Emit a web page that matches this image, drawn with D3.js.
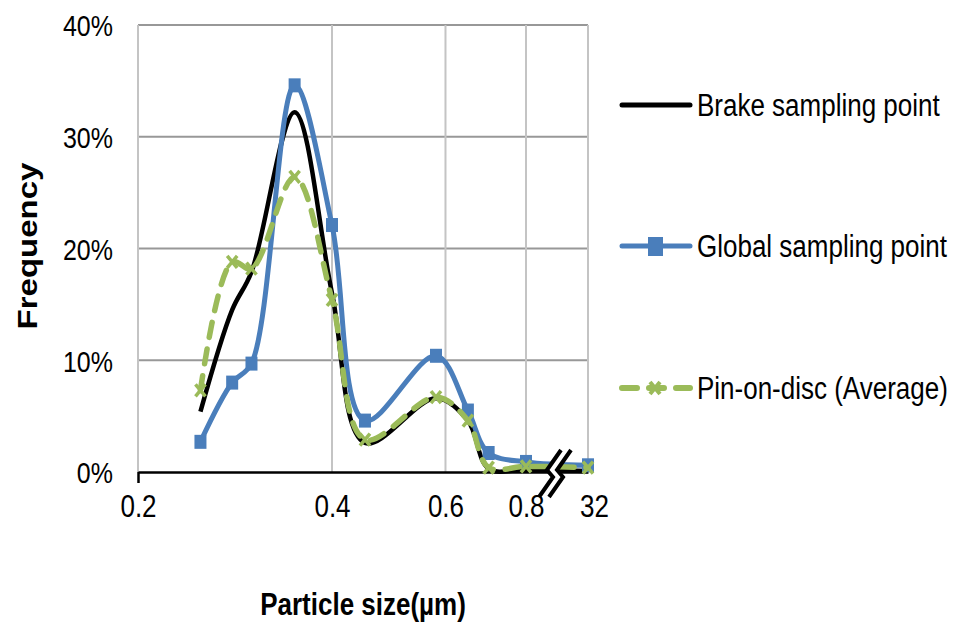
<!DOCTYPE html>
<html>
<head>
<meta charset="utf-8">
<script src="https://cdn.jsdelivr.net/npm/d3@7"></script>
<style>
  body { margin: 0; background: #fff; }
  text { font-family: "Liberation Sans", Arial, sans-serif; }
</style>
</head>
<body>
<svg width="956" height="623"></svg>
<script>
// particle size channels (um) and frequency (%)
const sizes = [0.25, 0.28, 0.30, 0.35, 0.40, 0.45, 0.58, 0.65, 0.70, 0.80, 32];
const brake = [5.4, 14.5, 17.9, 32.2, 16.0, 2.6, 6.6, 4.6, 0.3, 0.2, 0.1];
const global = [2.7, 8.0, 9.7, 34.6, 22.1, 4.6, 10.4, 5.5, 1.7, 0.9, 0.6];
const pinOnDisc = [7.3, 18.8, 18.2, 26.4, 15.4, 2.9, 6.7, 4.6, 0.4, 0.5, 0.4];
const xTicks = [0.2, 0.4, 0.6, 0.8, 32];
const yTicks = [0, 10, 20, 30, 40];
const seriesNames = ["Brake sampling point", "Global sampling point", "Pin-on-disc (Average)"];

const svg = d3.select("svg");

// log axis up to 0.8, then a broken segment up to 32
const x = d3.scaleLog().domain([0.2, 0.8, 32]).range([138, 526, 588]);
const y = d3.scaleLinear().domain([0, 40]).range([472, 25]);

// grid
svg.append("g").selectAll("line")
  .data(yTicks.slice(1))
  .enter().append("line")
  .attr("x1", x(0.2)).attr("x2", x(32))
  .attr("y1", d => y(d)).attr("y2", d => y(d))
  .style("stroke", "#989898").style("stroke-width", 2);

svg.append("g").selectAll("line")
  .data(xTicks)
  .enter().append("line")
  .attr("x1", d => x(d)).attr("x2", d => x(d))
  .attr("y1", y(0)).attr("y2", y(40))
  .style("stroke", "#c4c4c4").style("stroke-width", 2);

// axes
const xAxis = svg.append("g")
  .attr("transform", "translate(0," + y(0) + ")")
  .call(d3.axisBottom(x).tickValues(xTicks).tickFormat(d3.format("")).tickSizeOuter(0));
xAxis.select(".domain").style("stroke", "#000").style("stroke-width", 2.5);
xAxis.selectAll(".tick line")
  .attr("y2", d => d === 0.2 ? 11 : 0)
  .style("stroke", "#000").style("stroke-width", 2.5);
xAxis.selectAll(".tick text")
  .attr("y", 19)
  .attr("x", d => d === 32 ? 6 : 0)
  .attr("transform", "scale(1,1.2)")
  .style("font-size", "26px").style("fill", "#000");

const yAxis = svg.append("g")
  .attr("transform", "translate(" + (x(0.2) - 25) + ",0)")
  .call(d3.axisLeft(y).tickValues(yTicks).tickFormat(d => d + "%").tickSize(0));
yAxis.select(".domain").remove();
yAxis.selectAll(".tick text")
  .attr("x", 0)
  .attr("dy", "0.36em")
  .attr("transform", "scale(1,1.2)")
  .style("font-size", "25px").style("fill", "#000");

// axis titles
svg.append("text")
  .attr("transform", "translate(363,615) scale(1,1.2)")
  .attr("text-anchor", "middle")
  .style("font-size", "26px").style("font-weight", "bold")
  .text("Particle size(µm)");

svg.append("text")
  .attr("transform", "translate(37,246) rotate(-90) scale(1.2,1)")
  .attr("text-anchor", "middle")
  .style("font-size", "27.5px").style("font-weight", "bold")
  .text("Frequency");

// lines (smoothed like the spreadsheet)
const line = d3.line()
  .x((d, i) => x(sizes[i]))
  .y(d => y(d))
  .curve(d3.curveCatmullRom.alpha(0.5));

svg.append("path").datum(brake)
  .attr("d", line)
  .style("fill", "none").style("stroke", "#000")
  .style("stroke-width", 4.5).style("stroke-linejoin", "round");

svg.append("path").datum(global)
  .attr("d", line)
  .style("fill", "none").style("stroke", "#4a7ebb")
  .style("stroke-width", 5).style("stroke-linejoin", "round");

svg.append("g").selectAll("rect")
  .data(global)
  .enter().append("rect")
  .attr("x", (d, i) => x(sizes[i]) - 6)
  .attr("y", d => y(d) - 7)
  .attr("width", 12).attr("height", 14)
  .style("fill", "#4a7ebb");

svg.append("path").datum(pinOnDisc)
  .attr("d", line)
  .style("fill", "none").style("stroke", "#9bbb59")
  .style("stroke-width", 5.5).style("stroke-linecap", "round")
  .style("stroke-dasharray", "15,12");

svg.append("g").selectAll("path")
  .data(pinOnDisc)
  .enter().append("path")
  .attr("transform", (d, i) => "translate(" + x(sizes[i]) + "," + y(d) + ")")
  .attr("d", "M-5,-6L5,6M-5,6L5,-6")
  .style("stroke", "#9bbb59").style("stroke-width", 3.5);

// axis break mark
const bx = 552, by = y(0);
const zig = "M-13,25L1,5L-5,-2L9,-22";
svg.append("path")
  .attr("transform", "translate(" + bx + "," + by + ")")
  .attr("d", "M-13,25L1,5L-5,-2L9,-22L19,-22L5,-2L11,5L-3,25Z")
  .style("fill", "#fff");
[0, 10].forEach(dx => {
  svg.append("path")
    .attr("transform", "translate(" + (bx + dx) + "," + by + ")")
    .attr("d", zig)
    .style("fill", "none").style("stroke", "#000").style("stroke-width", 4);
});

// legend
const legendY = [105, 246, 388];
const legend = svg.append("g");
legend.append("line")
  .attr("x1", 622).attr("x2", 690).attr("y1", legendY[0]).attr("y2", legendY[0])
  .style("stroke", "#000").style("stroke-width", 5).style("stroke-linecap", "round");
legend.append("line")
  .attr("x1", 622).attr("x2", 690).attr("y1", legendY[1]).attr("y2", legendY[1])
  .style("stroke", "#4a7ebb").style("stroke-width", 5).style("stroke-linecap", "round");
legend.append("rect")
  .attr("x", 648).attr("y", legendY[1] - 9).attr("width", 15).attr("height", 19)
  .style("fill", "#4a7ebb");
legend.append("line")
  .attr("x1", 622).attr("x2", 690).attr("y1", legendY[2]).attr("y2", legendY[2])
  .style("stroke", "#9bbb59").style("stroke-width", 6).style("stroke-linecap", "round")
  .style("stroke-dasharray", "15,12");
legend.append("path")
  .attr("transform", "translate(655," + legendY[2] + ")")
  .attr("d", "M-5,-6L5,6M-5,6L5,-6M-7,0L7,0")
  .style("stroke", "#9bbb59").style("stroke-width", 4);
legend.selectAll("text")
  .data(seriesNames)
  .enter().append("text")
  .attr("transform", (d, i) => "translate(697," + (legendY[i] + 11) + ") scale(1,1.2)")
  .style("font-size", "26px").style("fill", "#000")
  .text(d => d);
</script>
</body>
</html>
